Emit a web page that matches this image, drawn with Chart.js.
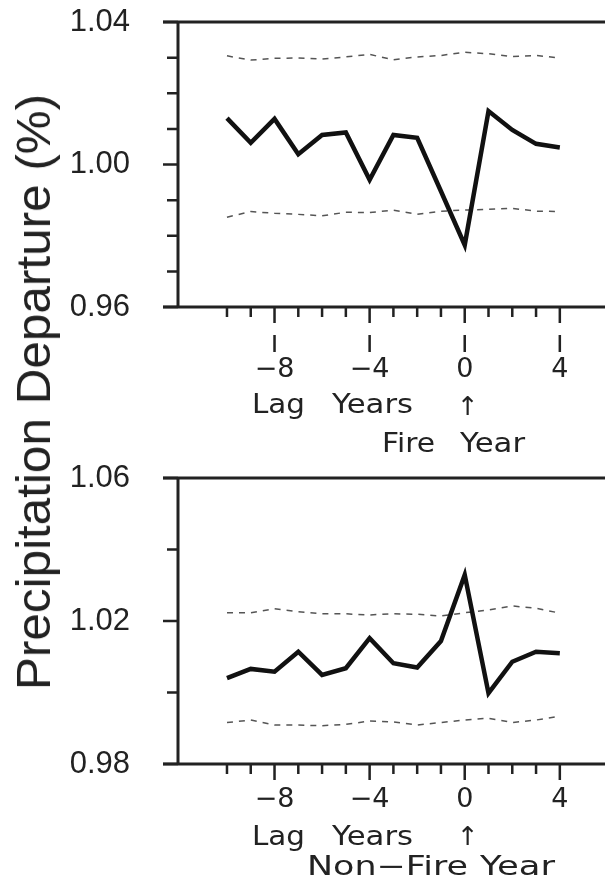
<!DOCTYPE html>
<html lang="en">
<head>
<meta charset="UTF-8">
<title>Precipitation Departure</title>
<script src="https://cdn.jsdelivr.net/npm/chart.js"></script>
<style>
    body { margin: 0; background: #fff; overflow: hidden; }
    .page { position: relative; width: 605px; height: 888px; }
    canvas { position: absolute; left: 0; }
    #grafTop { top: 0; }
    #grafBottom { top: 460px; }
    /* titulo vertical comun a los dos paneles */
    .ytitle {
        position: absolute; left: 34px; top: 392px;
        font: 48px 'Liberation Sans', Arial, sans-serif;
        color: #222; white-space: nowrap; line-height: 1;
        transform: translate(-50%, -50%) rotate(-90deg) scaleX(1.03);
    }
</style>
</head>
<body>
<div class="page">
    <canvas id="grafTop" width="605" height="460"></canvas>
    <canvas id="grafBottom" width="605" height="428"></canvas>
    <div class="ytitle">Precipitation Departure (%)</div>
</div>
<script>
    // datos
    const lagYears = [-10, -9, -8, -7, -6, -5, -4, -3, -2, -1, 0, 1, 2, 3, 4];
    const xLabelYears = [-8, -4, 0, 4];

    const fireMean  = [1.0130, 1.0061, 1.0128, 1.0029, 1.0083, 1.0090, 0.9957, 1.0083, 1.0075, 0.9925, 0.9774, 1.0150, 1.0097, 1.0058, 1.0048];
    const fireUpper = [1.0305, 1.0293, 1.0298, 1.0299, 1.0296, 1.0302, 1.0309, 1.0294, 1.0302, 1.0306, 1.0315, 1.0311, 1.0303, 1.0306, 1.0299];
    const fireLower = [0.9852, 0.9868, 0.9863, 0.9860, 0.9856, 0.9866, 0.9865, 0.9872, 0.9860, 0.9869, 0.9872, 0.9874, 0.9877, 0.9869, 0.9868];

    const nonFireMean  = [1.0040, 1.0066, 1.0058, 1.0114, 1.0049, 1.0068, 1.0152, 1.0082, 1.0070, 1.0144, 1.0329, 0.9998, 1.0086, 1.0114, 1.0110];
    const nonFireUpper = [1.0223, 1.0223, 1.0234, 1.0226, 1.0220, 1.0220, 1.0217, 1.0220, 1.0219, 1.0214, 1.0223, 1.0231, 1.0242, 1.0236, 1.0222];
    const nonFireLower = [0.9916, 0.9923, 0.9909, 0.9909, 0.9907, 0.9911, 0.9920, 0.9918, 0.9909, 0.9916, 0.9923, 0.9928, 0.9916, 0.9923, 0.9934];

    const fireYTicks = [0.96, 0.97, 0.98, 0.99, 1.00, 1.01, 1.02, 1.03, 1.04];
    const fireYLabels = [0.96, 1.00, 1.04];
    const nonFireYTicks = [0.98, 1.00, 1.02, 1.04, 1.06];
    const nonFireYLabels = [0.98, 1.02, 1.06];

    const INK = '#222';
    const textFont = "26px 'DejaVu Sans', sans-serif";

    function pares(ys) {
        return lagYears.map((x, i) => ({ x: x, y: ys[i] }));
    }

    function esLabel(v, lista) {
        return lista.some(l => Math.abs(l - v) < 1e-6);
    }

    // texto ajustado a un ancho dado
    function fitText(ctx, text, left, base, width) {
        ctx.font = textFont;
        const w = ctx.measureText(text).width;
        ctx.save();
        ctx.translate(left, base);
        ctx.scale(width / w, 1);
        ctx.textAlign = 'left';
        ctx.textBaseline = 'alphabetic';
        ctx.fillStyle = INK;
        ctx.fillText(text, 0, 0);
        ctx.restore();
    }

    function crearGrafica(id, cfg) {
        const marco = {
            id: 'marco',
            afterDraw(chart) {
                const ctx = chart.ctx;
                const a = chart.chartArea;
                const xs = chart.scales.x, ys = chart.scales.y;
                ctx.save();
                ctx.strokeStyle = INK;
                ctx.lineCap = 'butt';
                // ejes y bordes
                ctx.lineWidth = 3;
                ctx.beginPath();
                ctx.moveTo(a.left, a.top); ctx.lineTo(a.left, a.bottom);
                ctx.moveTo(a.left - 15, a.top); ctx.lineTo(chart.width, a.top);
                ctx.moveTo(a.left - 15, a.bottom); ctx.lineTo(chart.width, a.bottom);
                ctx.stroke();
                // marcas eje y
                ctx.lineWidth = 2.5;
                ctx.beginPath();
                cfg.yTicks.forEach(v => {
                    const py = ys.getPixelForValue(v);
                    const len = esLabel(v, cfg.yLabels) ? 15 : 11;
                    ctx.moveTo(a.left - len, py); ctx.lineTo(a.left, py);
                });
                // marcas eje x
                lagYears.forEach(v => {
                    const px = xs.getPixelForValue(v);
                    const len = xLabelYears.includes(v) ? 16 : 10;
                    ctx.moveTo(px, a.bottom); ctx.lineTo(px, a.bottom + len);
                });
                // marcas sueltas sobre las etiquetas (solo panel superior)
                if (cfg.marcasSueltas) {
                    xLabelYears.forEach(v => {
                        const px = xs.getPixelForValue(v);
                        ctx.moveTo(px, a.bottom + 28); ctx.lineTo(px, a.bottom + 45);
                    });
                }
                ctx.stroke();
                // textos
                cfg.textos.forEach(t => fitText(ctx, t.t, t.x, t.base, t.w));
                const ax = xs.getPixelForValue(0) + 3;
                ctx.font = textFont;
                ctx.fillStyle = INK;
                ctx.textAlign = 'center';
                ctx.textBaseline = 'alphabetic';
                ctx.fillText('\u2191', ax, cfg.flechaBase);
                ctx.restore();
            }
        };

        return new Chart(document.getElementById(id), {
            type: 'line',
            data: {
                datasets: [
                    { data: pares(cfg.mean), borderColor: '#111', borderWidth: 4.5, pointRadius: 0, tension: 0 },
                    { data: pares(cfg.upper), borderColor: '#555', borderWidth: 1.5, borderDash: [6, 6], pointRadius: 0 },
                    { data: pares(cfg.lower), borderColor: '#555', borderWidth: 1.5, borderDash: [6, 6], pointRadius: 0 }
                ]
            },
            options: {
                responsive: false,
                animation: false,
                devicePixelRatio: 1,
                layout: { padding: { top: cfg.top, left: 0, right: 0, bottom: 0 } },
                plugins: { legend: { display: false }, tooltip: { enabled: false } },
                scales: {
                    x: {
                        type: 'linear', min: -12.06, max: 5.9,
                        grid: { display: false }, border: { display: false },
                        afterBuildTicks: s => { s.ticks = lagYears.map(v => ({ value: v })); },
                        afterFit: s => { s.height = cfg.xHeight; s.paddingLeft = 0; s.paddingRight = 0; },
                        ticks: {
                            autoSkip: false, maxRotation: 0, padding: cfg.xPad, color: INK,
                            font: { family: "'DejaVu Sans', sans-serif", size: 27 },
                            callback: v => xLabelYears.includes(v) ? (v < 0 ? '\u2212' + Math.abs(v) : String(v)) : ''
                        }
                    },
                    y: {
                        type: 'linear', min: cfg.yTicks[0], max: cfg.yTicks[cfg.yTicks.length - 1],
                        grid: { display: false }, border: { display: false },
                        afterBuildTicks: s => { s.ticks = cfg.yTicks.map(v => ({ value: v })); },
                        afterFit: s => { s.width = 178; s.paddingTop = 0; s.paddingBottom = 0; },
                        ticks: {
                            autoSkip: false, padding: 40, color: INK,
                            font: { family: "'Liberation Sans', Arial, sans-serif", size: 31, lineHeight: 1 },
                            callback: v => esLabel(v, cfg.yLabels) ? v.toFixed(2) : ''
                        }
                    }
                }
            },
            plugins: [marco]
        });
    }

    crearGrafica('grafTop', {
        mean: fireMean, upper: fireUpper, lower: fireLower,
        yTicks: fireYTicks, yLabels: fireYLabels,
        top: 22, xHeight: 153, xPad: 39, marcasSueltas: true,
        flechaBase: 415,
        textos: [
            { t: 'Lag', x: 252, base: 413, w: 53 },
            { t: 'Years', x: 332, base: 413, w: 81 },
            { t: 'Fire', x: 382, base: 452, w: 53 },
            { t: 'Year', x: 460, base: 452, w: 65 }
        ]
    });

    crearGrafica('grafBottom', {
        mean: nonFireMean, upper: nonFireUpper, lower: nonFireLower,
        yTicks: nonFireYTicks, yLabels: nonFireYLabels,
        top: 18, xHeight: 124, xPad: 12, marcasSueltas: false,
        flechaBase: 385,
        textos: [
            { t: 'Lag', x: 252, base: 385, w: 53 },
            { t: 'Years', x: 332, base: 385, w: 81 },
            { t: 'Non\u2212Fire', x: 307, base: 415, w: 161 },
            { t: 'Year', x: 480, base: 415, w: 75 }
        ]
    });
</script>
</body>
</html>
